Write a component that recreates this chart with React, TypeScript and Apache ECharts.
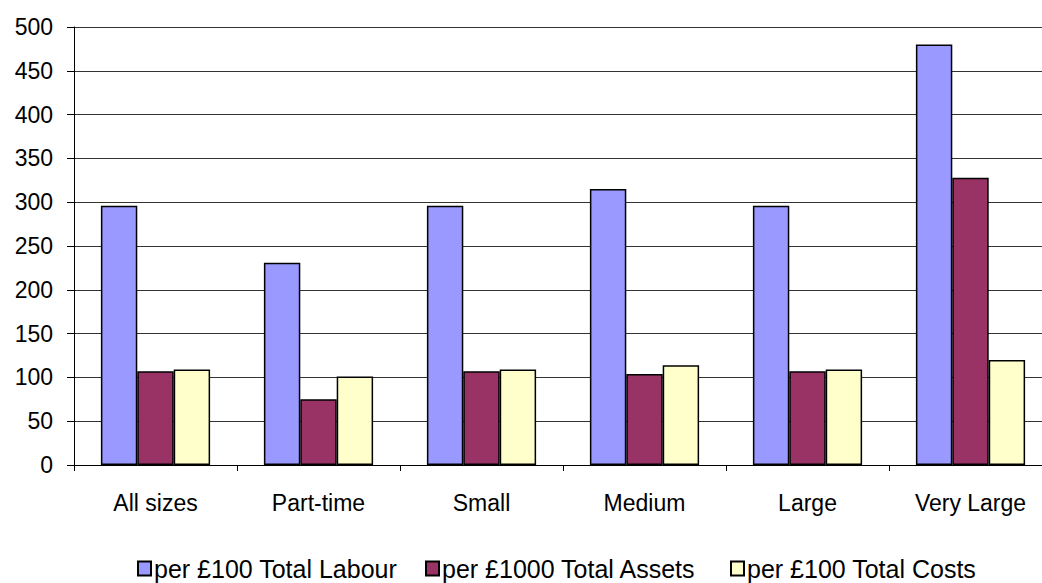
import React, { useEffect, useRef } from "react";
import * as echarts from "echarts";

const categories = ["All sizes", "Part-time", "Small", "Medium", "Large", "Very Large"];
const labour = [296, 231, 296, 315, 296, 480];
const assets = [107, 75, 107, 104, 107, 328];
const costs = [109, 101, 109, 114, 109, 120];
const seriesNames = ["per £100 Total Labour", "per £1000 Total Assets", "per £100 Total Costs"];
const seriesColors = ["#9999FF", "#993366", "#FFFFCC"];
const legendLefts = [137, 425, 730];

export default function App() {
  const ref = useRef<HTMLDivElement>(null);
  useEffect(() => {
    if (!ref.current) return;
    const chart = echarts.init(ref.current, null, { renderer: "svg" });
    const font = "'Liberation Sans', Arial, sans-serif";
    const data = [labour, assets, costs];
    chart.setOption({
      animation: false,
      backgroundColor: "#ffffff",
      textStyle: { fontFamily: font },
      grid: { left: 74, top: 27, width: 978, height: 438, containLabel: false },
      legend: seriesNames.map((name, i) => ({
        top: 556,
        left: legendLefts[i],
        icon: "rect",
        itemWidth: 13,
        itemHeight: 14,
        padding: 0,
        textStyle: { fontFamily: font, fontSize: 25, color: "#000", padding: [0, 0, 0, -2] },
        data: [name],
      })),
      xAxis: {
        type: "category",
        data: categories,
        axisLine: { lineStyle: { color: "#000", width: 1 } },
        axisTick: { show: true, length: 6, lineStyle: { color: "#000" } },
        axisLabel: { interval: 0, margin: 26, fontSize: 23, color: "#000", fontFamily: font },
      },
      yAxis: {
        type: "value",
        min: 0,
        max: 500,
        interval: 50,
        axisLine: { show: true, lineStyle: { color: "#000", width: 1 } },
        axisTick: { show: true, length: 7, lineStyle: { color: "#000" } },
        axisLabel: { margin: 21, fontSize: 23, color: "#000", fontFamily: font },
        splitLine: { show: true, lineStyle: { color: "#333", width: 1 } },
      },
      series: seriesNames.map((name, i) => ({
        name,
        type: "bar",
        data: data[i],
        barGap: "0%",
        barCategoryGap: "33%",
        itemStyle: { color: seriesColors[i], borderColor: "#000", borderWidth: 1.5 },
      })),
    });
    return () => chart.dispose();
  }, []);
  return (
    <div style={{ position: "absolute", left: 0, top: 0, width: 1042, height: 583, overflow: "hidden" }}>
      <div ref={ref} style={{ width: 1060, height: 583 }} />
    </div>
  );
}
